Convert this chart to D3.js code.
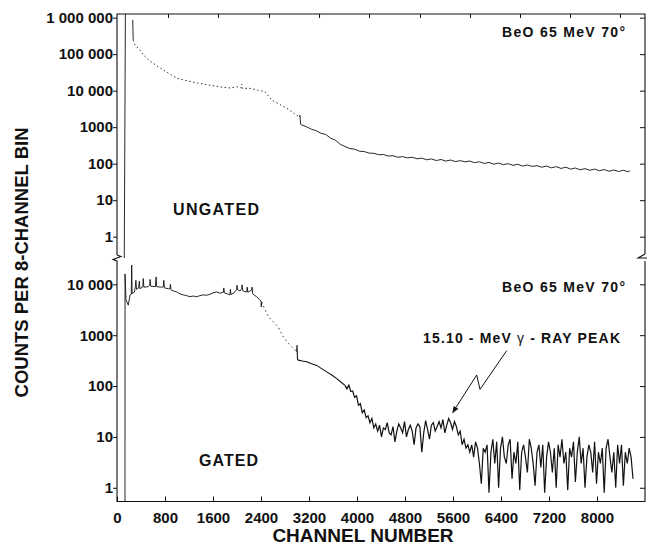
<!DOCTYPE html>
<html><head><meta charset="utf-8">
<script src="https://cdn.jsdelivr.net/npm/d3@7"></script>
<style>
body{margin:0;background:#fff}
svg{display:block;font-family:"Liberation Sans",Arial,Helvetica,sans-serif}
</style></head><body>
<svg id="c" width="648" height="546"></svg>
<script>
// ---------------- data ----------------
const xTickValues = [0, 800, 1600, 2400, 3200, 4000, 4800, 5600, 6400, 7200, 8000];
const topTickValues = [850, 1683, 2533, 3367, 4200, 5050, 5883, 6717, 7550, 8383];
const upperTickValues = [1, 10, 100, 1000, 1e4, 1e5, 1e6];
const upperTickLabels = ["1", "10", "100", "1000", "10 000", "100 000", "1 000 000"];
const lowerTickValues = [1, 10, 100, 1000, 1e4];
const lowerTickLabels = ["1", "10", "100", "1000", "10 000"];

// UNGATED spectrum: [channel, counts]
const ungatedDotted = [
  [270,245000],[300,178000],[383,129000],[438,95000],[520,72000],[605,56000],[690,45000],
  [772,37000],[880,28500],[995,22000],[1170,18500],[1355,16000],[1560,14000],[1772,12300],
  [1900,11800],[2000,12800],[2070,11800],[2078,15000],[2090,11500],[2217,11600],[2340,10400],
  [2467,9300],[2578,5560],[2700,4300],[2828,3300],[2950,2400],[3040,1900]
];
const ungatedSolid = [
  [120,0.1],[141,3e6],[200,null],[262,870000],[270,245000],[280,null],
  [3040,1900],[3050,2100],[3060,1200],[3078,1150],
  [3160,1020],[3240,880],[3320,800],[3400,680],[3480,630],[3560,500],[3640,440],[3720,340],
  [3800,295],[3880,260],[3960,250],[4040,220],[4120,215],[4200,195],[4280,192],[4360,176],
  [4440,178],[4520,162],[4600,165],[4680,150],[4760,156],[4840,144],[4920,150],[5000,136],
  [5080,142],[5160,128],[5240,135],[5320,122],[5400,130],[5480,118],[5560,126],[5640,114],
  [5720,121],[5800,112],[5880,118],[5960,106],[6040,113],[6120,101],[6200,108],[6280,97],
  [6360,104],[6440,94],[6520,100],[6600,90],[6680,96],[6760,86],[6840,92],[6920,84],
  [7000,88],[7080,80],[7160,86],[7240,77],[7320,83],[7400,74],[7480,80],[7560,71],
  [7640,76],[7720,68],[7800,73],[7880,66],[7960,71],[8040,64],[8120,69],[8200,62],
  [8280,67],[8360,61],[8440,66],[8520,60],[8550,64]
];

// GATED spectrum: [channel, counts]
const gatedSolid = [
  [100,0.3],[133,0.3],[134,16000],[150,5000],[188,3900],[217,6200],[238,6400],[245,24000],
  [252,6600],[290,7000],[305,8900],[315,12000],[325,8000],[360,8500],[372,11500],[382,8200],
  [430,8900],[438,13000],[448,8800],[520,9000],[545,9600],[552,12500],[562,9200],[640,9000],
  [652,14000],[662,9000],[740,8800],[772,8900],[780,12000],[790,8500],[860,8200],[883,8200],
  [890,10000],[900,7800],[940,7400],[995,7100],[1050,6500],[1105,6200],[1160,6000],[1217,5700],
  [1270,5900],[1328,5700],[1380,6000],[1438,6200],[1495,6100],[1550,6400],[1600,6800],
  [1662,7100],[1720,6700],[1772,7000],[1780,8500],[1790,6800],[1840,6500],[1883,6200],
  [1890,8000],[1900,6300],[1950,6800],[1995,8000],[2000,9600],[2010,7800],[2050,7400],
  [2078,8200],[2085,9800],[2095,7500],[2130,7200],[2162,7100],[2170,8800],[2180,7000],
  [2245,7700],[2252,8800],[2262,6500],[2300,6000],[2328,5700],[2370,5100],[2400,4700],
  [2405,3600],[2412,4500]
];
const gatedDotted = [
  [2412,4500],[2460,3300],[2522,2300],[2605,1830],[2688,1450],[2730,1150],[2772,930],
  [2850,700],[2912,590],[2960,520],[2995,470]
];
const gatedMid = [
  [2995,470],[3000,640],[3008,340],[3022,323],[3090,310],[3162,300],[3245,275],[3328,255],
  [3410,220],[3495,190],[3580,165],[3662,140],[3730,120],[3800,103]
];
// noisy part: one value per 32 channels, starting at channel 3800
const gatedNoiseStart = 3800, gatedNoiseStep = 32;
const gatedNoiseCounts = [
  103,
  88,104,78,80,60,64,42,45,30,34,24,26,19,23,15,18,13,17,10,15,14,19,12,11,16,
  8,13,18,15,12,20,10,14,17,13,7,15,18,16,5,12,21,14,9,17,19,13,16,20,15,
  22,12,17,23,19,14,20,16,11,13,7,9,6,7,5,
  7,4,8,6,3,1.2,6,5,7,0.8,5,9,3,8,1,6,10,4,3,7,9,1.5,5,3,8,
  0.9,5,7,4,2,9,6,3,1.1,5,7,2.5,7,0.8,4,
  8,5,2,6,1,7,4,9,3,5,
  0.9,6,4,8,1.3,5,10,3,6,1,
  4,7,5,2,8,1.2,5,3,6,0.8,
  6,9,4,2,5,1,7,3,7,1.1,
  5,3,6,4,1.5
];
// annotation arrow (lower panel, data coordinates)
const peakArrow = [[6495,497],[6050,86],[5995,165],[5595,30]];

// ---------------- layout ----------------
const L = 117, R = 645, T = 14, B = 501.5, BRK = 258;
const svg = d3.select("#c");
const x = d3.scaleLinear().domain([0, 8800]).range([L, R]);
const yU = d3.scaleLog().domain([Math.pow(10,-0.584), Math.pow(10,6.10)]).range([BRK, T]);
const yL = d3.scaleLog().domain([Math.pow(10,-0.27), Math.pow(10,4.518)]).range([B, BRK]);

const defs = svg.append("defs");
defs.append("clipPath").attr("id","clipU").append("rect").attr("x",L).attr("y",T).attr("width",R-L).attr("height",BRK-T);
defs.append("clipPath").attr("id","clipL").append("rect").attr("x",L).attr("y",BRK).attr("width",R-L).attr("height",B-BRK);
defs.append("marker").attr("id","ah").attr("viewBox","0 0 10 10").attr("refX",9).attr("refY",5)
  .attr("markerWidth",7).attr("markerHeight",7).attr("orient","auto-start-reverse")
  .append("path").attr("d","M0,1 L10,5 L0,9 z").attr("fill","#111");

const ink = "#111";
function styleAxis(g){
  g.select(".domain").remove();
  g.attr("font-family", null).attr("font-size", 15).attr("font-weight", "bold");
  g.selectAll("line").attr("stroke", ink).attr("stroke-width", 1);
  g.selectAll("text").attr("fill", ink);
}

// left axes
svg.append("g").attr("transform",`translate(${L},0)`)
  .call(d3.axisLeft(yU).tickValues(upperTickValues).tickFormat((d,i)=>upperTickLabels[i]).tickSize(4).tickPadding(0))
  .call(styleAxis);
svg.append("g").attr("transform",`translate(${L},0)`)
  .call(d3.axisLeft(yL).tickValues(lowerTickValues).tickFormat((d,i)=>lowerTickLabels[i]).tickSize(4).tickPadding(0))
  .call(styleAxis);
// right axes
svg.append("g").attr("transform",`translate(${R},0)`)
  .call(d3.axisRight(yU).tickValues(upperTickValues).tickFormat("").tickSize(-5)).call(styleAxis);
svg.append("g").attr("transform",`translate(${R},0)`)
  .call(d3.axisRight(yL).tickValues(lowerTickValues).tickFormat("").tickSize(-5)).call(styleAxis);
// bottom axis
svg.append("g").attr("transform",`translate(0,${B})`)
  .call(d3.axisBottom(x).tickValues(xTickValues).tickFormat(d3.format("d")).tickSize(-5).tickPadding(11))
  .call(styleAxis);
// top axis
svg.append("g").attr("transform",`translate(0,${T})`)
  .call(d3.axisTop(x).tickValues(topTickValues).tickFormat("").tickSize(-4)).call(styleAxis);

// frame with axis breaks
const frame = d3.path();
frame.moveTo(L, BRK-3); frame.lineTo(L, T); frame.lineTo(R, T); frame.lineTo(R, BRK-4);
frame.moveTo(L, BRK-3); frame.lineTo(L+4, BRK-1.5); frame.lineTo(L-4, BRK+1.5); frame.lineTo(L, BRK+3); frame.lineTo(L, B);
frame.lineTo(R, B); frame.lineTo(R, BRK+3);
frame.moveTo(R, BRK-4); frame.lineTo(R-7, BRK); frame.lineTo(R+2, BRK);
svg.append("path").attr("d", frame.toString()).attr("fill","none").attr("stroke",ink).attr("stroke-width",1.1);

// spectra
const lineU = d3.line().defined(d=>d[1]!=null).x(d=>x(d[0])).y(d=>yU(d[1]));
const lineL = d3.line().defined(d=>d[1]!=null).x(d=>x(d[0])).y(d=>yL(d[1]));
const gU = svg.append("g").attr("clip-path","url(#clipU)");
const gL = svg.append("g").attr("clip-path","url(#clipL)");

gU.append("path").datum(ungatedDotted).attr("d", lineU).attr("fill","none")
  .attr("stroke", "#333").attr("stroke-width", 1).attr("stroke-dasharray","1.5 2.5");
gU.append("path").datum(ungatedSolid).attr("d", lineU).attr("fill","none")
  .attr("stroke", ink).attr("stroke-width", 0.9);

const gatedNoise = gatedNoiseCounts.map((v,i)=>[gatedNoiseStart + i*gatedNoiseStep, v]);
gL.append("path").datum(gatedSolid).attr("d", lineL).attr("fill","none")
  .attr("stroke", ink).attr("stroke-width", 0.9);
gL.append("path").datum(gatedDotted).attr("d", lineL).attr("fill","none")
  .attr("stroke", "#333").attr("stroke-width", 1).attr("stroke-dasharray","1.5 3");
gL.append("path").datum(gatedMid).attr("d", lineL).attr("fill","none")
  .attr("stroke", ink).attr("stroke-width", 1.1);
gL.append("path").datum(gatedNoise).attr("d", lineL).attr("fill","none")
  .attr("stroke", ink).attr("stroke-width", 1.2);

// annotation arrow
svg.append("path").datum(peakArrow).attr("d", lineL).attr("fill","none")
  .attr("stroke", ink).attr("stroke-width", 1).attr("marker-end","url(#ah)");

// texts
function label(txt, xx, yy, size, len, anchor){
  return svg.append("text").attr("x",xx).attr("y",yy).attr("font-size",size).attr("font-weight","bold")
    .attr("fill",ink).attr("text-anchor",anchor||"start").attr("textLength",len).attr("lengthAdjust","spacing").text(txt);
}
label("BeO 65 MeV 70°", 625, 37, 14, 123, "end");
label("BeO 65 MeV 70°", 625, 291.5, 14, 123, "end");
label("UNGATED", 173, 215, 16, 86);
label("GATED", 199, 466, 16, 59);

const pk = svg.append("text").attr("x",423).attr("y",343).attr("font-size",14).attr("font-weight","bold")
  .attr("fill",ink).attr("textLength",197).attr("lengthAdjust","spacing");
pk.append("tspan").text("15.10 - MeV ");
pk.append("tspan").attr("font-weight","normal").text("γ");
pk.append("tspan").text(" - RAY PEAK");

svg.append("text").attr("transform","translate(21,262.5) rotate(-90)").attr("text-anchor","middle")
  .attr("dominant-baseline","central").attr("font-size",18.5).attr("font-weight","bold").attr("fill",ink)
  .text("COUNTS PER 8-CHANNEL BIN");
svg.append("text").attr("x",363).attr("y",541.5).attr("text-anchor","middle")
  .attr("font-size",19).attr("font-weight","bold").attr("fill",ink).text("CHANNEL NUMBER");
</script>
</body></html>
